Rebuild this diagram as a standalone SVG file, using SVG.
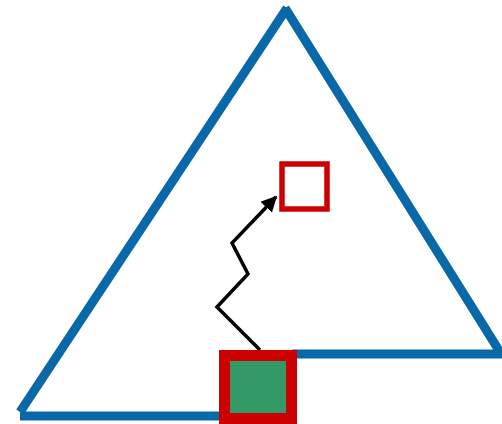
<svg xmlns="http://www.w3.org/2000/svg" width="502" height="424" viewBox="0 0 502 424">
<defs>
<style>
.edge{stroke:#0868a8;stroke-width:9;fill:none;stroke-linecap:butt}
.conn{stroke:#000;stroke-width:3.5;fill:none;stroke-linejoin:miter}
</style>
<marker id="ah" viewBox="0 0 10 10" refX="9" refY="5" markerWidth="4.5" markerHeight="4.5" orient="auto" markerUnits="strokeWidth">
<path d="M0,0 L10,5 L0,10 z" fill="#000"/>
</marker>
</defs>
<g id="triangle">
<line class="edge" x1="20" y1="412" x2="287" y2="8"/>
<line class="edge" x1="285" y1="8" x2="500" y2="352"/>
<line class="edge" x1="20" y1="416" x2="222" y2="416"/>
<line class="edge" x1="292" y1="354" x2="502" y2="354"/>
</g>
<g id="connectors">
<path class="conn" d="M260,350 L217,307 L248,274 L232,243 L276,197" marker-end="url(#ah)"/>
</g>
<g id="source">
<rect x="224.5" y="355.5" width="67" height="63" fill="#339966" stroke="#cc0000" stroke-width="11"/>
</g>
<g id="target">
<rect x="282" y="164" width="45" height="45" fill="#fff" stroke="#cc0000" stroke-width="5.5"/>
</g>
</svg>
